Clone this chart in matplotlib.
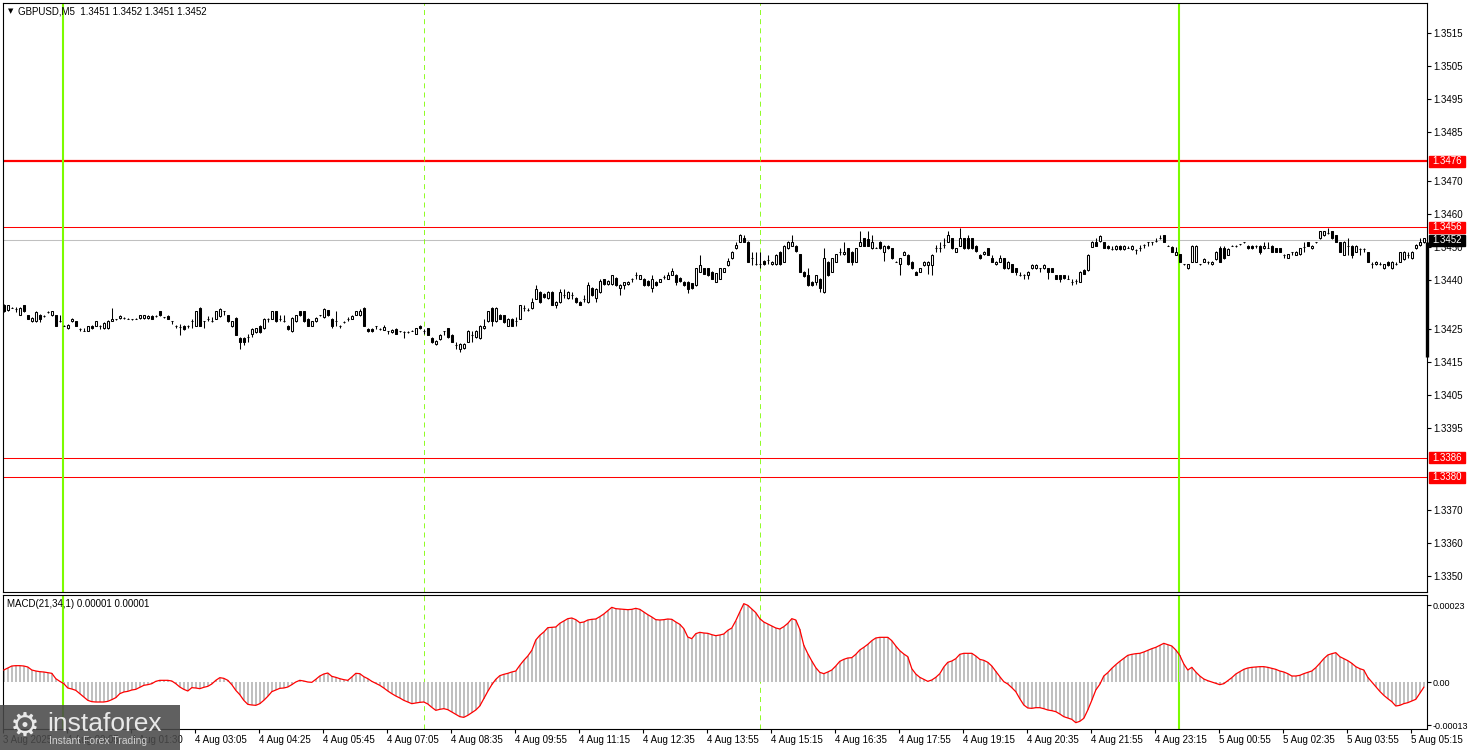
import numpy as np
import matplotlib
matplotlib.use("Agg")
import matplotlib.pyplot as plt
from matplotlib.patches import Rectangle
from matplotlib.transforms import blended_transform_factory

# ---- data: GBPUSD M5, prices in pips above base ----
base = 1.3400

open_pips = [
    32.3, 30.7, 31.5, 31.0, 29.4, 32.3, 29.2, 27.4, 27.4, 29.2,
    29.0, 30.2, 29.2, 29.2, 27.4, 26.1, 25.3, 27.5, 27.4, 25.1,
    24.6, 24.6, 26.1, 26.1, 26.1, 25.3, 25.3, 27.6, 28.0, 28.4,
    28.4, 28.2, 28.0, 28.2, 28.4, 28.4, 28.4, 29.0, 29.0, 30.4,
    28.6, 29.0, 27.4, 26.1, 25.6, 26.1, 26.1, 27.4, 26.1, 31.4,
    27.4, 28.2, 27.4, 28.2, 29.0, 30.4, 29.2, 25.9, 28.4, 22.3,
    22.3, 22.6, 23.6, 24.1, 26.1, 25.3, 28.2, 28.2, 30.4, 28.2,
    27.4, 26.1, 24.3, 27.4, 30.4, 30.4, 28.2, 26.1, 27.4, 29.2,
    28.7, 30.7, 28.2, 27.4, 26.1, 27.2, 28.0, 28.2, 29.4, 29.2,
    31.4, 25.1, 25.1, 25.9, 25.1, 24.9, 24.3, 24.1, 25.1, 24.3,
    24.1, 24.1, 24.6, 23.6, 26.1, 24.3, 25.3, 22.3, 20.5, 22.0,
    24.3, 25.3, 23.3, 20.2, 19.0, 19.2, 21.2, 23.3, 22.6, 22.3,
    25.3, 27.4, 31.4, 27.4, 29.4, 29.2, 26.1, 28.2, 27.4, 28.2,
    31.4, 30.7, 31.4, 34.3, 36.3, 35.8, 34.5, 36.3, 32.5, 33.3,
    35.5, 34.5, 35.3, 34.5, 33.3, 34.3, 33.3, 37.5, 34.5, 36.3,
    40.2, 38.6, 38.6, 40.6, 37.5, 38.4, 38.6, 40.4, 41.6, 40.4,
    40.4, 39.6, 37.5, 39.4, 39.4, 40.9, 40.4, 41.6, 41.6, 40.6,
    39.4, 39.4, 38.9, 38.4, 42.5, 43.5, 43.5, 42.5, 39.4, 40.4,
    42.5, 44.5, 46.5, 49.6, 51.6, 52.6, 51.6, 46.5, 44.7, 44.7,
    45.7, 46.0, 44.7, 44.7, 48.6, 45.5, 49.6, 50.4, 50.4, 47.8,
    42.5, 41.6, 39.4, 39.4, 40.4, 36.3, 45.5, 42.5, 45.5, 48.6,
    47.8, 49.6, 48.6, 45.5, 50.4, 52.6, 52.4, 49.6, 49.8, 51.6,
    48.6, 50.4, 49.6, 45.5, 44.7, 47.6, 47.6, 45.5, 42.5, 42.5,
    44.5, 44.5, 44.5, 49.6, 49.6, 50.6, 51.6, 52.6, 48.6, 50.4,
    52.6, 52.6, 52.6, 50.4, 47.6, 47.8, 49.6, 46.5, 44.7, 45.5,
    46.5, 43.5, 44.7, 43.5, 41.4, 41.4, 41.4, 43.5, 43.5, 43.5,
    43.5, 43.5, 43.5, 41.4, 41.4, 41.4, 40.4, 39.4, 39.6, 39.4,
    43.0, 43.0, 50.1, 51.6, 51.8, 51.4, 50.4, 49.4, 49.4, 50.4,
    49.4, 49.8, 49.4, 49.1, 49.8, 50.6, 51.4, 51.4, 51.8, 52.6,
    53.5, 50.4, 50.1, 47.6, 47.8, 44.7, 43.5, 45.5, 45.5, 44.7,
    45.5, 45.5, 44.7, 46.3, 49.6, 49.6, 47.6, 50.4, 50.4, 50.8,
    51.4, 50.4, 50.4, 50.4, 50.4, 49.6, 49.8, 50.4, 49.6, 49.6,
    47.6, 46.7, 48.4, 47.6, 47.8, 50.1, 51.4, 49.6, 51.4, 52.6,
    53.5, 54.2, 54.7, 53.5, 51.4, 47.6, 50.4, 50.4, 48.6, 49.4,
    49.4, 48.4, 44.7, 44.7, 44.7, 43.5, 45.5, 43.5, 44.7, 45.5,
    46.3, 47.6, 46.5, 49.6, 50.6, 51.4,
]

close_pips = [
    30.4, 32.3, 31.4, 31.1, 31.4, 30.4, 28.2, 28.4, 30.2, 28.2,
    29.0, 30.2, 30.4, 26.1, 27.4, 26.1, 26.3, 28.2, 26.1, 25.1,
    24.6, 25.9, 25.3, 27.4, 26.1, 26.9, 27.6, 28.2, 28.0, 29.0,
    28.4, 28.2, 28.0, 28.2, 29.2, 29.2, 29.0, 28.2, 29.0, 29.2,
    28.6, 28.2, 27.4, 26.1, 25.6, 25.1, 26.1, 27.4, 30.4, 26.1,
    27.4, 28.2, 27.4, 30.4, 31.2, 30.4, 27.4, 27.4, 23.3, 21.2,
    21.2, 22.6, 25.1, 25.3, 24.1, 28.2, 28.2, 30.4, 27.4, 28.2,
    27.4, 25.1, 28.4, 29.2, 29.2, 27.4, 26.1, 27.4, 28.4, 29.2,
    31.2, 29.2, 26.1, 27.4, 26.1, 27.2, 28.0, 29.0, 30.4, 30.4,
    26.1, 24.3, 24.3, 25.9, 25.1, 25.6, 24.3, 24.9, 23.6, 24.3,
    24.1, 24.1, 24.6, 25.3, 25.3, 24.3, 23.3, 21.0, 21.5, 23.3,
    24.3, 22.6, 21.2, 20.2, 20.5, 20.5, 24.6, 23.3, 24.6, 26.1,
    26.1, 30.4, 27.4, 31.4, 28.2, 27.2, 28.2, 26.1, 27.4, 32.3,
    31.4, 30.7, 33.3, 37.3, 33.3, 34.8, 36.3, 32.5, 33.3, 36.3,
    35.5, 36.3, 35.3, 33.3, 32.5, 34.3, 38.4, 35.3, 37.3, 39.6,
    38.6, 39.6, 41.4, 38.4, 38.4, 39.2, 39.4, 40.4, 41.6, 41.4,
    38.4, 38.4, 40.4, 38.4, 40.2, 40.9, 41.6, 42.7, 39.4, 39.6,
    38.4, 37.3, 37.5, 43.5, 44.5, 41.9, 41.4, 40.4, 42.0, 43.5,
    43.5, 45.7, 48.6, 50.6, 53.5, 51.6, 45.5, 46.5, 44.7, 44.7,
    44.7, 46.0, 45.5, 47.6, 44.7, 50.4, 51.6, 51.6, 48.8, 42.5,
    41.2, 38.4, 38.4, 41.4, 37.5, 46.5, 41.4, 46.5, 47.8, 48.6,
    48.6, 45.5, 45.5, 49.6, 51.6, 50.4, 50.4, 51.6, 49.8, 49.6,
    50.4, 49.6, 46.5, 45.5, 46.5, 48.6, 44.7, 43.5, 41.6, 43.5,
    45.5, 45.5, 47.6, 49.6, 49.6, 50.6, 53.5, 49.6, 49.6, 52.6,
    49.6, 49.6, 49.6, 48.8, 46.5, 48.6, 47.6, 45.5, 45.5, 46.5,
    43.5, 45.5, 42.5, 42.5, 41.4, 41.4, 42.5, 44.5, 44.5, 43.5,
    44.5, 42.5, 42.5, 40.4, 40.4, 40.6, 40.4, 39.4, 39.6, 42.5,
    41.9, 47.6, 51.6, 50.4, 53.2, 49.8, 49.6, 49.4, 50.4, 49.4,
    50.4, 49.8, 50.4, 49.1, 49.8, 50.6, 51.4, 51.4, 51.8, 52.6,
    51.6, 50.4, 48.6, 48.6, 45.5, 44.7, 44.7, 50.4, 50.4, 44.7,
    46.3, 45.5, 45.5, 48.6, 45.5, 46.5, 49.4, 50.4, 50.4, 50.8,
    51.4, 49.6, 49.6, 50.4, 48.6, 50.4, 49.8, 48.6, 48.6, 48.6,
    47.6, 47.8, 48.4, 48.6, 49.6, 50.1, 50.4, 50.4, 51.4, 54.7,
    54.7, 54.2, 52.6, 51.6, 48.6, 51.6, 50.4, 47.6, 50.4, 49.4,
    49.4, 45.5, 44.7, 45.5, 44.7, 44.7, 44.5, 45.5, 44.7, 48.4,
    48.6, 47.6, 48.6, 50.6, 51.6, 52.6,
]

high_pips = [
    32.6, 32.5, 31.6, 31.8, 31.6, 32.5, 29.4, 28.6, 30.4, 29.6,
    29.2, 30.4, 30.6, 29.4, 29.4, 26.3, 26.5, 28.4, 27.6, 25.3,
    25.3, 26.1, 26.3, 27.6, 26.3, 27.1, 27.8, 31.4, 28.2, 29.2,
    28.6, 28.4, 28.2, 28.4, 29.4, 29.4, 29.2, 29.2, 29.2, 30.6,
    28.8, 29.2, 27.6, 26.3, 26.6, 26.3, 26.3, 28.2, 30.6, 31.6,
    27.6, 29.0, 28.7, 30.6, 31.4, 30.6, 29.4, 27.6, 28.6, 22.5,
    22.5, 23.6, 25.3, 25.5, 26.3, 28.4, 28.4, 30.6, 30.6, 29.2,
    29.2, 26.3, 28.6, 29.4, 30.6, 30.6, 28.4, 27.6, 28.6, 29.4,
    31.4, 30.9, 28.4, 30.4, 26.3, 27.4, 28.6, 29.2, 30.6, 31.0,
    31.6, 25.3, 25.3, 26.1, 25.3, 26.4, 24.5, 25.1, 25.3, 24.5,
    24.6, 24.6, 24.8, 25.5, 26.3, 25.1, 25.5, 22.5, 21.7, 23.5,
    24.5, 25.5, 23.5, 21.2, 20.7, 20.7, 24.8, 24.6, 24.8, 26.3,
    28.2, 30.6, 31.6, 31.6, 29.6, 29.4, 28.4, 28.4, 28.7, 32.5,
    32.3, 31.4, 34.5, 38.4, 36.5, 36.0, 36.5, 36.5, 33.5, 37.3,
    37.3, 36.5, 36.3, 34.7, 33.5, 35.3, 39.4, 37.7, 37.5, 40.4,
    40.4, 39.8, 41.6, 40.8, 38.6, 39.4, 39.6, 40.6, 42.5, 41.6,
    40.6, 39.8, 41.4, 39.6, 40.4, 41.6, 42.5, 43.5, 41.8, 40.8,
    39.6, 39.6, 39.1, 43.7, 47.6, 43.7, 43.7, 42.7, 42.2, 43.7,
    43.7, 46.5, 48.8, 51.6, 53.9, 53.5, 51.8, 48.6, 48.6, 48.6,
    45.9, 47.6, 45.7, 47.8, 48.8, 50.6, 51.8, 53.5, 50.6, 48.0,
    42.7, 43.5, 39.6, 41.6, 40.6, 49.6, 45.7, 46.7, 48.0, 49.6,
    51.6, 49.8, 48.8, 49.8, 54.7, 52.8, 54.7, 53.7, 50.0, 51.8,
    50.6, 50.6, 49.8, 45.7, 46.7, 48.8, 47.8, 45.7, 42.7, 43.7,
    45.7, 45.7, 47.8, 50.6, 51.6, 52.6, 54.7, 52.8, 49.8, 55.7,
    52.8, 53.5, 52.8, 50.6, 47.8, 48.8, 49.8, 47.6, 45.7, 47.6,
    46.7, 45.7, 44.9, 43.7, 42.5, 41.9, 42.7, 44.7, 44.7, 43.7,
    44.7, 43.7, 43.7, 41.6, 41.6, 41.6, 41.4, 40.4, 40.4, 42.7,
    43.2, 47.8, 51.8, 52.6, 53.7, 51.6, 50.6, 50.4, 50.6, 50.6,
    50.6, 50.4, 50.6, 49.3, 50.6, 50.8, 51.6, 51.6, 52.6, 53.5,
    53.7, 50.6, 50.3, 50.1, 48.0, 44.9, 44.9, 50.6, 50.6, 44.9,
    46.5, 45.7, 45.7, 48.8, 50.4, 50.4, 49.6, 50.6, 50.6, 51.0,
    51.6, 50.6, 50.6, 50.6, 50.6, 51.4, 51.4, 50.6, 49.8, 49.8,
    47.8, 48.0, 48.6, 48.8, 49.8, 51.6, 51.6, 50.6, 51.6, 54.9,
    54.9, 55.7, 54.9, 53.7, 51.6, 51.8, 52.6, 50.6, 50.6, 49.6,
    49.6, 48.6, 45.5, 45.7, 45.5, 44.9, 45.7, 45.7, 45.5, 48.6,
    48.8, 48.6, 48.8, 50.8, 52.6, 52.8,
]

low_pips = [
    30.2, 30.5, 31.3, 30.3, 29.2, 30.2, 28.0, 27.2, 27.2, 27.2,
    28.8, 30.0, 29.0, 25.9, 27.2, 25.9, 25.1, 27.3, 25.9, 24.3,
    24.4, 24.4, 25.1, 25.9, 25.1, 25.1, 25.1, 27.4, 27.8, 28.2,
    28.2, 28.0, 27.8, 28.0, 28.2, 28.2, 28.2, 28.0, 28.8, 29.0,
    28.4, 28.0, 26.6, 25.3, 23.3, 24.9, 25.3, 25.3, 25.9, 25.9,
    25.3, 27.4, 27.2, 28.0, 28.8, 29.2, 27.2, 25.7, 23.1, 19.0,
    20.2, 21.0, 22.6, 23.9, 23.9, 25.1, 27.2, 28.0, 27.2, 27.4,
    27.2, 24.9, 24.1, 27.2, 29.0, 27.2, 25.9, 25.9, 27.2, 29.0,
    28.5, 29.0, 25.3, 26.1, 25.3, 27.0, 27.4, 28.0, 29.2, 29.0,
    25.9, 24.1, 24.1, 25.1, 24.9, 24.7, 23.6, 23.9, 23.4, 24.1,
    22.3, 23.9, 24.4, 23.4, 25.1, 23.6, 23.1, 20.8, 20.3, 21.8,
    23.1, 22.4, 21.0, 19.0, 18.2, 19.0, 21.0, 21.2, 22.4, 22.1,
    25.1, 27.2, 26.1, 27.2, 28.0, 27.0, 25.9, 25.9, 26.1, 28.0,
    30.4, 30.5, 31.2, 34.1, 33.1, 34.6, 34.3, 32.3, 31.4, 33.1,
    34.5, 34.3, 34.3, 33.1, 32.3, 33.3, 33.1, 35.1, 33.3, 36.1,
    38.4, 38.4, 38.4, 38.2, 35.3, 37.3, 38.4, 39.4, 40.4, 40.2,
    38.2, 38.2, 36.3, 38.2, 39.2, 40.2, 40.2, 41.4, 38.4, 39.4,
    38.2, 36.1, 37.3, 38.2, 42.3, 41.7, 41.2, 40.2, 39.2, 40.2,
    42.3, 44.3, 46.3, 49.4, 51.4, 51.4, 45.3, 44.5, 44.5, 43.5,
    44.5, 44.7, 44.5, 44.5, 44.5, 45.3, 49.4, 50.2, 48.6, 42.3,
    41.0, 38.2, 38.2, 38.4, 36.3, 36.1, 41.2, 42.3, 45.3, 47.6,
    47.6, 45.3, 44.5, 45.3, 50.2, 50.2, 50.2, 49.4, 49.6, 49.4,
    45.7, 49.4, 46.3, 45.3, 41.6, 47.4, 44.5, 43.3, 41.4, 42.3,
    44.3, 41.9, 41.4, 48.6, 48.6, 49.6, 51.4, 49.4, 48.4, 50.2,
    49.4, 49.4, 49.4, 48.6, 46.3, 47.6, 47.4, 45.3, 44.5, 45.3,
    43.3, 43.3, 42.3, 41.4, 41.2, 40.4, 40.4, 43.3, 43.3, 42.5,
    43.3, 40.4, 42.3, 40.2, 39.4, 40.4, 40.2, 38.4, 38.6, 39.2,
    41.7, 42.8, 49.9, 50.2, 51.6, 49.6, 49.4, 49.2, 49.2, 49.2,
    49.2, 49.6, 49.2, 47.8, 48.8, 49.6, 50.4, 50.6, 51.6, 52.4,
    51.4, 50.2, 48.4, 47.4, 45.3, 44.5, 43.3, 45.3, 45.3, 44.5,
    45.3, 44.7, 44.5, 46.1, 45.3, 46.3, 47.4, 50.2, 50.0, 50.6,
    51.2, 49.4, 49.4, 49.6, 47.8, 49.4, 49.6, 48.4, 48.4, 48.4,
    46.5, 46.5, 47.6, 47.4, 47.6, 48.6, 50.2, 49.4, 51.2, 52.4,
    53.3, 54.0, 52.4, 51.4, 48.4, 47.4, 47.6, 46.5, 48.4, 47.6,
    48.6, 45.3, 43.5, 44.5, 44.5, 43.3, 44.3, 43.3, 44.5, 45.3,
    46.1, 46.5, 46.3, 49.4, 50.4, 51.2,
]

# MACD(21,34,1) main line, in units of 0.00001
macd_pts = [
    3.6, 4.2, 4.8, 4.9, 4.9, 4.8, 4.5, 3.6, 3.3, 3.1,
    3.0, 2.8, 2.6, 1.0, 0.2, -0.5, -1.8, -2.1, -2.5, -3.5,
    -4.5, -5.5, -5.9, -6.0, -6.0, -6.0, -5.8, -5.3, -4.7, -3.5,
    -3.0, -2.8, -2.4, -2.2, -1.6, -1.0, -0.8, -0.5, 0.2, 0.5,
    0.5, 0.5, 0.3, -0.5, -1.5, -2.2, -2.7, -1.7, -1.8, -2.0,
    -1.6, -1.3, -0.6, 0.5, 1.3, 1.1, 0.5, -0.8, -2.5, -3.8,
    -5.5, -6.7, -6.9, -7.0, -6.5, -5.5, -4.3, -2.9, -2.4, -1.9,
    -1.8, -1.5, -0.8, 0.0, 0.5, 0.3, 0.0, -0.1, 0.8, 1.8,
    2.4, 2.7, 1.7, 1.4, 1.0, 0.7, 0.5, 1.5, 2.6, 2.5,
    1.6, 1.0, 0.2, -0.4, -1.0, -1.8, -2.7, -3.5, -4.2, -4.8,
    -5.5, -6.0, -6.5, -6.3, -6.1, -6.0, -6.6, -7.6, -8.5, -8.2,
    -8.0, -8.3, -9.0, -9.7, -10.4, -10.6, -10.0, -9.2, -8.4, -7.2,
    -5.0, -2.8, -0.8, 0.8, 1.9, 2.3, 2.6, 3.0, 3.3, 5.0,
    6.5, 7.8, 9.5, 12.6, 14.0, 15.0, 16.3, 16.4, 16.5, 17.6,
    18.3, 19.0, 19.2, 18.7, 17.8, 18.0, 18.6, 18.8, 18.9, 19.6,
    20.4, 21.4, 22.4, 22.0, 21.9, 21.8, 21.7, 21.8, 22.1, 21.8,
    21.0, 20.2, 19.5, 18.7, 18.6, 18.7, 18.9, 18.8, 18.0, 17.3,
    16.0, 13.5, 13.0, 14.5, 14.9, 14.7, 14.6, 14.2, 13.9, 14.1,
    14.4, 15.5, 16.2, 18.4, 21.0, 23.5, 23.0, 21.9, 20.8, 19.0,
    18.0, 17.4, 16.8, 16.2, 15.9, 16.6, 17.6, 19.0, 18.6, 15.8,
    11.0, 8.5, 6.3, 4.3, 2.9, 2.5, 3.0, 3.6, 4.8, 6.2,
    6.8, 7.2, 7.3, 8.3, 9.6, 10.4, 11.3, 12.4, 13.2, 13.4,
    13.4, 13.4, 12.4, 10.8, 9.4, 8.4, 7.6, 4.0, 2.4, 1.4,
    0.8, 0.2, 0.6, 1.4, 2.5, 4.5, 5.9, 6.3, 7.0, 8.3,
    8.6, 8.6, 8.6, 7.8, 6.8, 6.5, 5.9, 4.8, 3.2, 1.6,
    0.1, -0.6, -1.7, -2.9, -5.0, -6.9, -7.8, -7.9, -7.7, -7.7,
    -8.0, -8.4, -8.6, -8.9, -9.6, -10.4, -10.8, -11.2, -12.2, -11.8,
    -10.9, -8.4, -5.5, -2.4, -0.7, 1.8, 2.8, 4.1, 5.2, 6.2,
    7.1, 8.0, 8.3, 8.5, 8.6, 9.0, 9.5, 10.0, 10.4, 11.0,
    11.6, 11.2, 10.8, 9.6, 8.0, 5.4, 3.6, 4.4, 3.0, 1.8,
    0.9, 0.4, 0.0, -0.4, -0.8, -0.5, 0.4, 1.3, 2.4, 3.1,
    3.8, 4.2, 4.4, 4.5, 4.6, 4.6, 4.4, 4.1, 3.8, 3.3,
    3.0, 2.5, 1.8, 1.8, 2.0, 2.5, 2.9, 3.3, 4.3, 5.6,
    7.0, 8.1, 8.5, 8.8, 7.6, 7.0, 6.4, 5.6, 4.6, 4.0,
    3.6, 1.4, 0.0, -1.4, -2.8, -4.0, -5.0, -5.9, -7.2, -7.0,
    -6.5, -6.2, -5.7, -5.2, -3.4, -1.6,
]

price_ticks = [1.3515, 1.3505, 1.3495, 1.3485, 1.3470, 1.3460, 1.3450, 1.3440,
               1.3425, 1.3415, 1.3405, 1.3395, 1.3370, 1.3360, 1.3350]
level_lines = [1.3476, 1.3456, 1.3386, 1.3380]
last_price = 1.3452
time_labels = ["3 Aug 2025", "4 Aug 00:05", "4 Aug 01:30", "4 Aug 03:05", "4 Aug 04:25",
               "4 Aug 05:45", "4 Aug 07:05", "4 Aug 08:35", "4 Aug 09:55", "4 Aug 11:15",
               "4 Aug 12:35", "4 Aug 13:55", "4 Aug 15:15", "4 Aug 16:35", "4 Aug 17:55",
               "4 Aug 19:15", "4 Aug 20:35", "4 Aug 21:55", "4 Aug 23:15", "5 Aug 00:55",
               "5 Aug 02:35", "5 Aug 03:55", "5 Aug 05:15"]

# ---- figure ----
W, H = 1468, 750
plt.rcParams['font.family'] = ['Liberation Sans', 'DejaVu Sans']
fig = plt.figure(figsize=(W / 100, H / 100), dpi=100)


def px_axes(x0, y0, x1, y1):
    return fig.add_axes([x0 / W, 1 - y1 / H, (x1 - x0) / W, (y1 - y0) / H])


ax = px_axes(3, 3, 1427, 592)
ax2 = px_axes(3, 595, 1427, 729)

n = len(close_pips)
xs = np.arange(n)
o = base + np.array(open_pips) / 1e4
c = base + np.array(close_pips) / 1e4
hi = np.maximum(base + np.array(high_pips) / 1e4, np.maximum(o, c))
lo = np.minimum(base + np.array(low_pips) / 1e4, np.minimum(o, c))

lime = '#7CFC00'

# level lines
ax.axhline(last_price, color='#C0C0C0', lw=0.75, zorder=1)
for lv in level_lines:
    ax.axhline(lv, color='red', lw=1.6 if lv == 1.3476 else 0.75, zorder=1)

# vertical markers
for a in (ax, ax2):
    for v in (14.8, 293.8):
        a.axvline(v, color=lime, lw=1.5, zorder=1)
    for v in (105.05, 189.05):
        a.axvline(v, color=lime, lw=0.6, ls=(0, (6, 5)), zorder=1)

# candles
ax.vlines(xs, lo, hi, color='black', lw=0.75, zorder=2)
bull = c >= o
body_lo = np.minimum(o, c)
body_h = np.abs(c - o)
ax.bar(xs[bull], body_h[bull], bottom=body_lo[bull], width=0.55,
       facecolor='white', edgecolor='black', linewidth=0.75, zorder=3)
ax.bar(xs[~bull], body_h[~bull], bottom=body_lo[~bull], width=0.55,
       facecolor='black', edgecolor='black', linewidth=0.75, zorder=3)

ax.set_xlim(-0.2, n - 0.2)
ax.set_ylim(1.334514, 1.352412)
ax.set_xticks([])
ax.yaxis.tick_right()
ax.set_yticks(price_ticks)
ax.set_yticklabels([f"{t:.4f}" for t in price_ticks])
ax.tick_params(axis='y', direction='out', length=3, width=0.8, labelsize=7, pad=1.5)

# current bar artefact at right edge
ax.plot([n - 0.2, n - 0.2], [1.34516, 1.34164], color='black', lw=2.4,
        solid_capstyle='butt', clip_on=False, zorder=5)

# price boxes on the scale
bt = blended_transform_factory(fig.transFigure, ax.transData)
half = 5.5 / 32910
boxes = [(1.3476, 'red'), (1.3456, 'red'), (1.3386, 'red'), (1.3380, 'red'), (last_price, 'black')]
for p, col in boxes:
    ax.add_patch(Rectangle((1429 / W, p - half), 36 / W, 2 * half, transform=bt,
                           facecolor=col, edgecolor=col, clip_on=False, zorder=6))
    ax.text(1432 / W, p, f"{p:.4f}", transform=bt, color='white', fontsize=7,
            va='center', ha='left', clip_on=False, zorder=7)

# MACD panel
m = np.array(macd_pts) * 1e-5
ax2.bar(xs, m, width=0.6, color='#C0C0C0', linewidth=0, zorder=2)
ax2.plot(xs, m, color='red', lw=0.9, zorder=3)
ax2.set_xlim(-0.2, n - 0.2)
ax2.set_ylim(-14.1e-5, 26.1e-5)
ax2.yaxis.tick_right()
ax2.set_yticks([23e-5, 0.0, -13e-5])
ax2.set_yticklabels(['0.00023', '0.00', '-0.00013'])
ax2.tick_params(axis='y', direction='out', length=3, width=0.8, labelsize=6.5, pad=1)
ax2.set_xticks(np.arange(len(time_labels)) * 16 - 0.2)
ax2.set_xticklabels(time_labels, ha='left')
ax2.tick_params(axis='x', direction='out', length=3, width=0.8, labelsize=7, pad=1)

for a in (ax, ax2):
    for s in a.spines.values():
        s.set_linewidth(0.8)
        s.set_color('black')

# headers
fig.text(8 / W, 1 - 11 / H, '\u25BC', fontsize=5, family='DejaVu Sans', va='center')
fig.text(18 / W, 1 - 11 / H, 'GBPUSD,M5  1.3451 1.3452 1.3451 1.3452', fontsize=7, va='center')
fig.text(7 / W, 1 - 604 / H, 'MACD(21,34,1) 0.00001 0.00001', fontsize=7, va='center')

# watermark
fig.add_artist(Rectangle((0, 0), 180 / W, 45 / H, transform=fig.transFigure,
                         facecolor='#4a4a4a', edgecolor='none', alpha=0.88, zorder=10))
fig.text(25 / W, 1 - 726 / H, '\u2699', fontsize=24, family='DejaVu Sans', color='#e8e8e8',
         ha='center', va='center', zorder=11)
fig.text(47 / W, 1 - 724 / H, 'instaforex', fontsize=19, color='#e8e8e8',
         ha='left', va='center', zorder=11)
fig.text(49 / W, 1 - 741 / H, 'Instant Forex Trading', fontsize=7.5, color='#d0d0d0',
         ha='left', va='center', zorder=11)

fig.savefig('out.png', dpi=100)
